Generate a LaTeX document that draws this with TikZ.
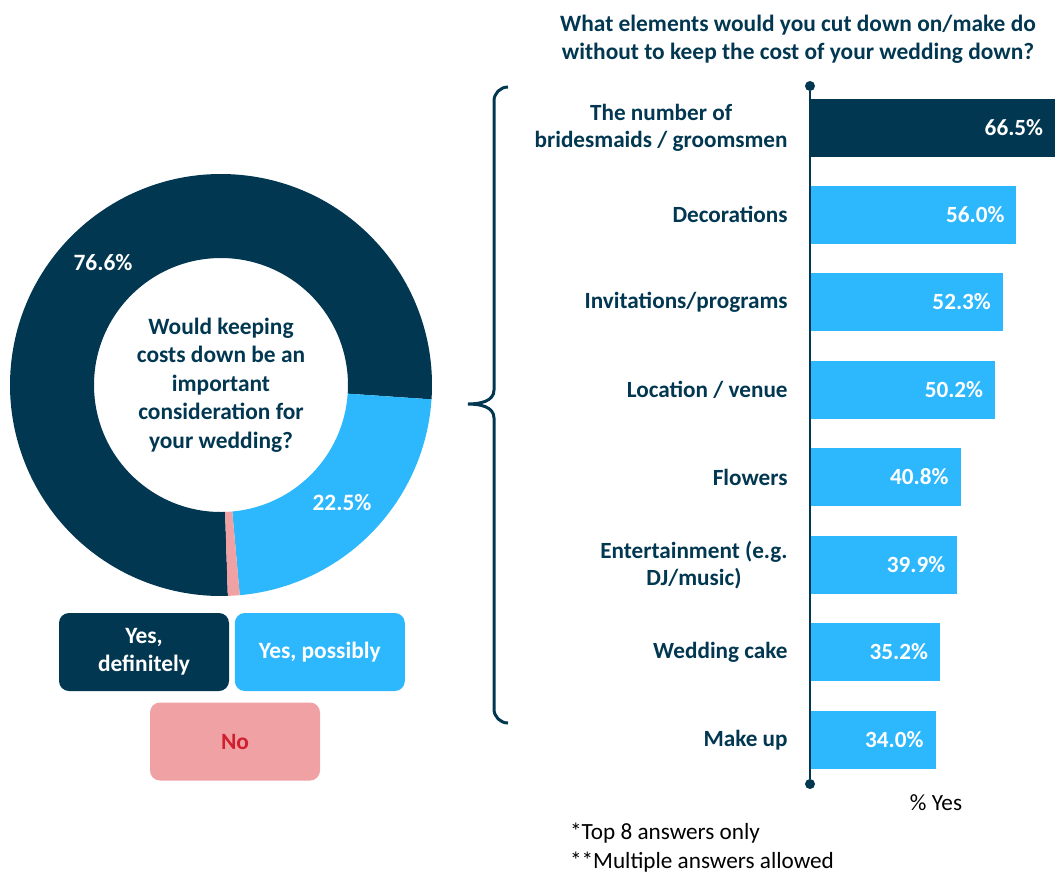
\documentclass[tikz,border=0pt]{standalone}
\usepackage{fontspec}
\setmainfont{Carlito}
\usetikzlibrary{positioning}
\definecolor{navy}{RGB}{2,55,81}
\definecolor{sky}{RGB}{45,184,254}
\definecolor{rose}{RGB}{239,161,164}
\definecolor{crimson}{RGB}{208,32,47}
\newcommand{\qfont}{\bfseries\fontsize{11.7}{14.2}\selectfont}
\newcommand{\bfont}{\bfseries\fontsize{11.6}{13.4}\selectfont}
\newcommand{\nfont}{\fontsize{11.6}{14.5}\selectfont}
% one slice of the ring: colour, start angle, end angle
\newcommand{\ringpart}[3]{\fill[#1] (#2:105.5pt) arc[start angle=#2, end angle=#3, radius=105.5pt]
   -- (#3:63.5pt) arc[start angle=#3, end angle=#2, radius=63.5pt] -- cycle;}
% one bar: name, y, percent, label, fill
\newcommand{\cutrow}[5]{
   \node[cutbar={#3}{#5}] (#1) at (810,#2) {};
   \node[barval, left=6pt of #1.east] (#1v) {#3\%};
   \node[barlbl, left=11pt of #1] (#1l) {#4};
}
\tikzset{cutbar/.style 2 args={rectangle, fill=#2, minimum width=#1*1.84pt, minimum height=29pt,
            inner sep=0pt, anchor=west},
         barval/.style={text=white, font=\bfont, inner sep=0pt},
         barlbl/.style={text=navy, font=\bfont, align=center, inner sep=0pt},
         legbox/.style={rectangle, rounded corners=5pt, fill=#1, minimum width=85pt,
            minimum height=39pt, font=\qfont, align=center, inner sep=0pt},
         axdot/.style={circle, fill=navy, minimum size=5pt, inner sep=0pt}}

\begin{document}
\begin{tikzpicture}[x=0.5pt, y=-0.5pt]
\useasboundingbox (0,0) rectangle (1055,874);
 \begin{scope}[shift={(221,385)}]
  \ringpart{navy}{-3.9}{271.86}
  \ringpart{sky}{-84.9}{-3.9}
  \ringpart{rose}{-88.14}{-84.9}
 \end{scope}
 \node[text=navy, font=\qfont, align=center] (q) at (221,385)
    {Would keeping\\costs down be an\\important\\consideration for\\your wedding?};
 \node[text=white, font=\qfont] (p1) at (103,263) {76.6\%};
 \node[text=white, font=\qfont] (p2) at (342,503) {22.5\%};

 \node[legbox=navy, text=white] (k1) at (144,652) {Yes,\\definitely};
 \node[legbox=sky, text=white] (k2) [right=2.5pt of k1] {Yes, possibly};
 \node[legbox=rose, text=crimson] (k3) at (235,741.5) {No};

 \node[text=navy, font=\qfont, align=center] (t) at (798,39)
    {What elements would you cut down on/make do\\without to keep the cost of your wedding down?};
 \draw [navy, line width=1.5pt] (508,87) to[out=180,in=90] (494,101) -- (494,390)
    to[out=-90,in=0] (468,404) to[out=0,in=90] (494,418) -- (494,709) to[out=-90,in=180] (508,723);

 \cutrow{b1}{127.5}{66.5}{The number of\\bridesmaids / groomsmen}{navy}
 \cutrow{b2}{214.5}{56.0}{Decorations}{sky}
 \cutrow{b3}{302}{52.3}{Invitations/programs}{sky}
 \cutrow{b4}{389.5}{50.2}{Location / venue}{sky}
 \cutrow{b5}{477}{40.8}{Flowers}{sky}
 \cutrow{b6}{565}{39.9}{Entertainment (e.g.\\DJ/music)}{sky}
 \cutrow{b7}{652}{35.2}{Wedding cake}{sky}
 \cutrow{b8}{740}{34.0}{Make up}{sky}

 \node[axdot] (a1) at (810,86) {};
 \node[axdot] (a2) at (810,784) {};
 \draw [navy, line width=1pt] (a1) -- (a2);

 \node[font=\nfont] (y) at (936,803) {\% Yes};
 \node[font=\nfont, align=left, anchor=north west] (fn) at (563,816)
    {*Top 8 answers only\\**Multiple answers allowed};
\end{tikzpicture}
\end{document}
